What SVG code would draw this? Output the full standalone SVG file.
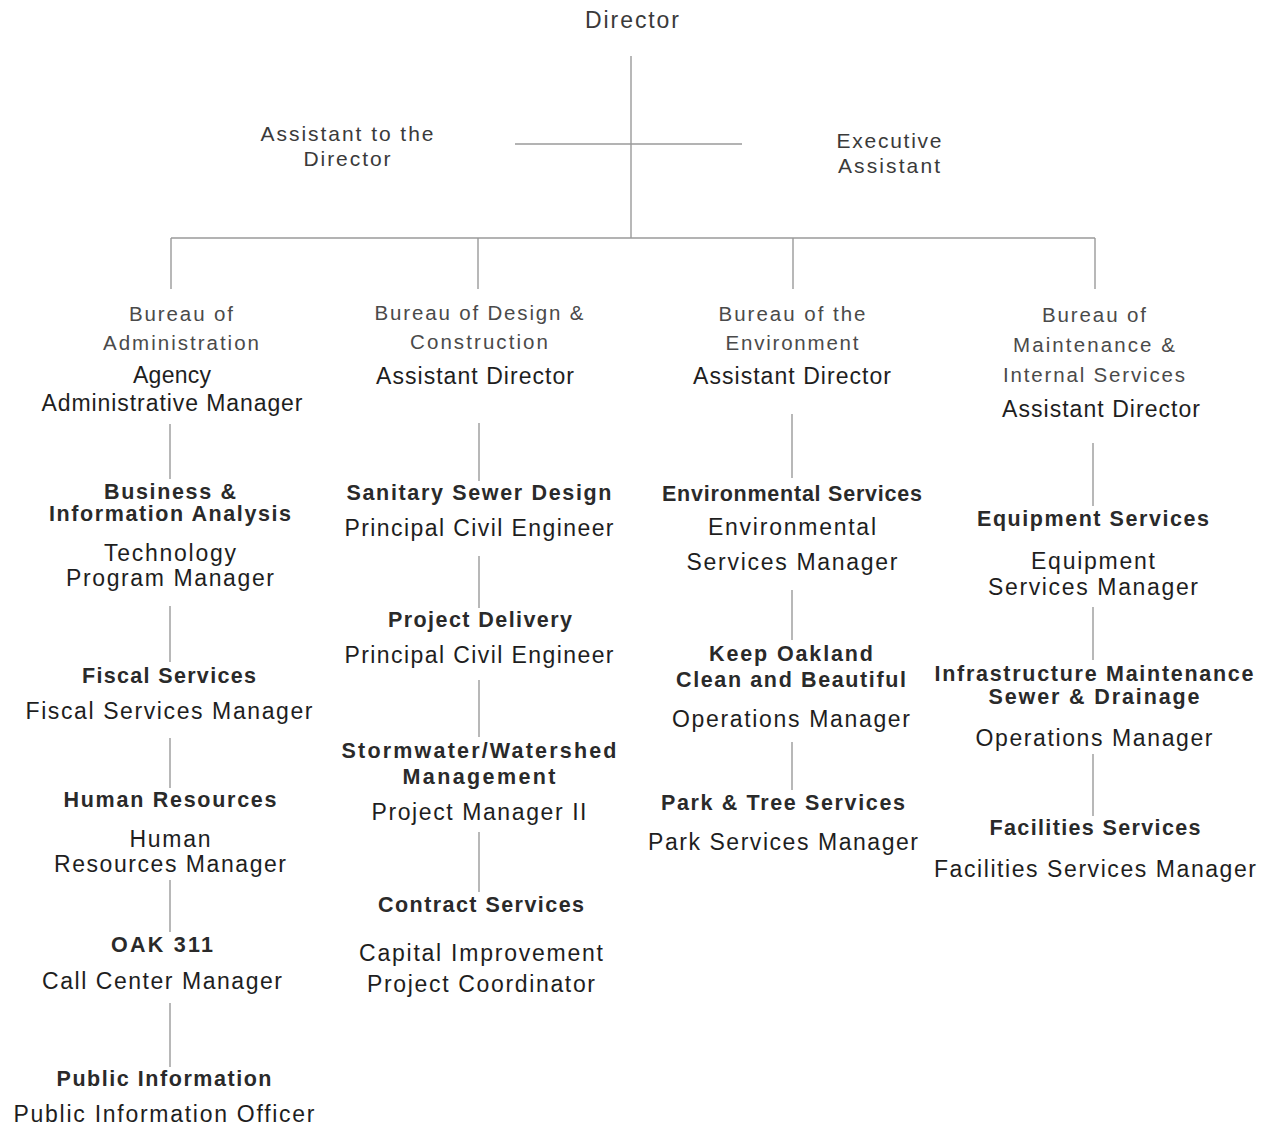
<svg xmlns="http://www.w3.org/2000/svg" width="1268" height="1129" viewBox="0 0 1268 1129">
<style>
text{font-family:"Liberation Sans","Arial",sans-serif;text-anchor:middle;}
.top{font-size:23px;fill:#3a3a3a;font-family:"Liberation Sans Narrow","Liberation Sans",sans-serif;}
.tight{font-size:21px;}
.bur{font-size:20.5px;fill:#4a4a4a;}
.role{font-size:23px;fill:#1e1e1e;}
.unit{font-size:21.5px;font-weight:bold;fill:#2a2a2a;}
.ln{stroke:#9a9a9a;stroke-width:1.4;fill:none;}
</style>
<rect width="1268" height="1129" fill="#ffffff"/>
<g id="connectors">
<line class="ln" x1="631" y1="56" x2="631" y2="238"/>
<line class="ln" x1="515" y1="144" x2="742" y2="144"/>
<line class="ln" x1="171" y1="238" x2="1095" y2="238"/>
<line class="ln" x1="171" y1="238" x2="171" y2="289"/>
<line class="ln" x1="478" y1="238" x2="478" y2="289"/>
<line class="ln" x1="793" y1="238" x2="793" y2="289"/>
<line class="ln" x1="1095" y1="238" x2="1095" y2="289"/>
<line class="ln" x1="170" y1="424" x2="170" y2="479"/>
<line class="ln" x1="170" y1="606" x2="170" y2="662"/>
<line class="ln" x1="170" y1="738" x2="170" y2="788"/>
<line class="ln" x1="170" y1="880" x2="170" y2="932"/>
<line class="ln" x1="170" y1="1003" x2="170" y2="1067"/>
<line class="ln" x1="479" y1="423" x2="479" y2="481"/>
<line class="ln" x1="479" y1="556" x2="479" y2="608"/>
<line class="ln" x1="479" y1="680" x2="479" y2="737"/>
<line class="ln" x1="479" y1="832" x2="479" y2="892"/>
<line class="ln" x1="792" y1="414" x2="792" y2="478"/>
<line class="ln" x1="792" y1="590" x2="792" y2="640"/>
<line class="ln" x1="792" y1="742" x2="792" y2="790"/>
<line class="ln" x1="1093" y1="443" x2="1093" y2="506"/>
<line class="ln" x1="1093" y1="607" x2="1093" y2="660"/>
<line class="ln" x1="1093" y1="754" x2="1093" y2="816"/>
</g>
<g id="director"><text class="top" x="632" y="28" textLength="94">Director</text></g>
<g id="assistant-to-director">
<text class="top tight" x="347" y="141" textLength="173">Assistant to the</text>
<text class="top tight" x="347" y="166" textLength="87">Director</text>
</g>
<g id="executive-assistant">
<text class="top tight" x="889" y="148" textLength="105">Executive</text>
<text class="top tight" x="889" y="173" textLength="102">Assistant</text>
</g>
<g id="bureau-administration">
<text class="bur" x="181" y="321" textLength="104">Bureau of</text>
<text class="bur" x="181" y="350" textLength="156">Administration</text>
<text class="role" x="172" y="383" textLength="78">Agency</text>
<text class="role" x="172" y="411" textLength="261">Administrative Manager</text>
</g>
<g id="business-information">
<text class="unit" x="170" y="499" textLength="132">Business &amp;</text>
<text class="unit" x="170" y="521" textLength="242">Information Analysis</text>
<text class="role tight" x="170" y="561" textLength="132">Technology</text>
<text class="role tight" x="170" y="586" textLength="208">Program Manager</text>
</g>
<g id="fiscal-services">
<text class="unit" x="169" y="683" textLength="174">Fiscal Services</text>
<text class="role" x="169" y="719" textLength="287">Fiscal Services Manager</text>
</g>
<g id="human-resources">
<text class="unit" x="170" y="807" textLength="213">Human Resources</text>
<text class="role tight" x="170" y="847" textLength="81">Human</text>
<text class="role tight" x="170" y="872" textLength="232">Resources Manager</text>
</g>
<g id="oak-311">
<text class="unit" x="162" y="952" textLength="102">OAK 311</text>
<text class="role" x="162" y="989" textLength="240">Call Center Manager</text>
</g>
<g id="public-information">
<text class="unit" x="164" y="1086" textLength="215">Public Information</text>
<text class="role" x="164" y="1122" textLength="301">Public Information Officer</text>
</g>
<g id="bureau-design-construction">
<text class="bur" x="479" y="320" textLength="209">Bureau of Design &amp;</text>
<text class="bur" x="479" y="349" textLength="138">Construction</text>
<text class="role" x="475" y="384" textLength="198">Assistant Director</text>
</g>
<g id="sanitary-sewer-design">
<text class="unit" x="479" y="500" textLength="265">Sanitary Sewer Design</text>
<text class="role" x="479" y="536" textLength="269">Principal Civil Engineer</text>
</g>
<g id="project-delivery">
<text class="unit" x="480" y="627" textLength="184">Project Delivery</text>
<text class="role" x="479" y="663" textLength="269">Principal Civil Engineer</text>
</g>
<g id="stormwater-watershed">
<text class="unit" x="479" y="758" textLength="275">Stormwater/Watershed</text>
<text class="unit" x="479" y="784" textLength="153">Management</text>
<text class="role" x="479" y="820" textLength="215">Project Manager II</text>
</g>
<g id="contract-services">
<text class="unit" x="481" y="912" textLength="206">Contract Services</text>
<text class="role" x="481" y="961" textLength="244">Capital Improvement</text>
<text class="role" x="481" y="992" textLength="228">Project Coordinator</text>
</g>
<g id="bureau-environment">
<text class="bur" x="792" y="321" textLength="147">Bureau of the</text>
<text class="bur" x="792" y="350" textLength="133">Environment</text>
<text class="role" x="792" y="384" textLength="198">Assistant Director</text>
</g>
<g id="environmental-services">
<text class="unit" x="792" y="501" textLength="260">Environmental Services</text>
<text class="role" x="792" y="535" textLength="168">Environmental</text>
<text class="role" x="792" y="570" textLength="211">Services Manager</text>
</g>
<g id="keep-oakland">
<text class="unit" x="791" y="661" textLength="164">Keep Oakland</text>
<text class="unit" x="791" y="687" textLength="230">Clean and Beautiful</text>
<text class="role" x="791" y="727" textLength="238">Operations Manager</text>
</g>
<g id="park-tree-services">
<text class="unit" x="783" y="810" textLength="244">Park &amp; Tree Services</text>
<text class="role" x="783" y="850" textLength="270">Park Services Manager</text>
</g>
<g id="bureau-maintenance">
<text class="bur" x="1094" y="322" textLength="104">Bureau of</text>
<text class="bur" x="1094" y="352" textLength="162">Maintenance &amp;</text>
<text class="bur" x="1094" y="382" textLength="182">Internal Services</text>
<text class="role" x="1101" y="417" textLength="198">Assistant Director</text>
</g>
<g id="equipment-services">
<text class="unit" x="1093" y="526" textLength="232">Equipment Services</text>
<text class="role" x="1093" y="569" textLength="124">Equipment</text>
<text class="role" x="1093" y="595" textLength="210">Services Manager</text>
</g>
<g id="infrastructure-maintenance">
<text class="unit" x="1094" y="681" textLength="319">Infrastructure Maintenance</text>
<text class="unit" x="1094" y="704" textLength="211">Sewer &amp; Drainage</text>
<text class="role" x="1094" y="746" textLength="237">Operations Manager</text>
</g>
<g id="facilities-services">
<text class="unit" x="1095" y="835" textLength="211">Facilities Services</text>
<text class="role" x="1095" y="877" textLength="322">Facilities Services Manager</text>
</g>
</svg>
